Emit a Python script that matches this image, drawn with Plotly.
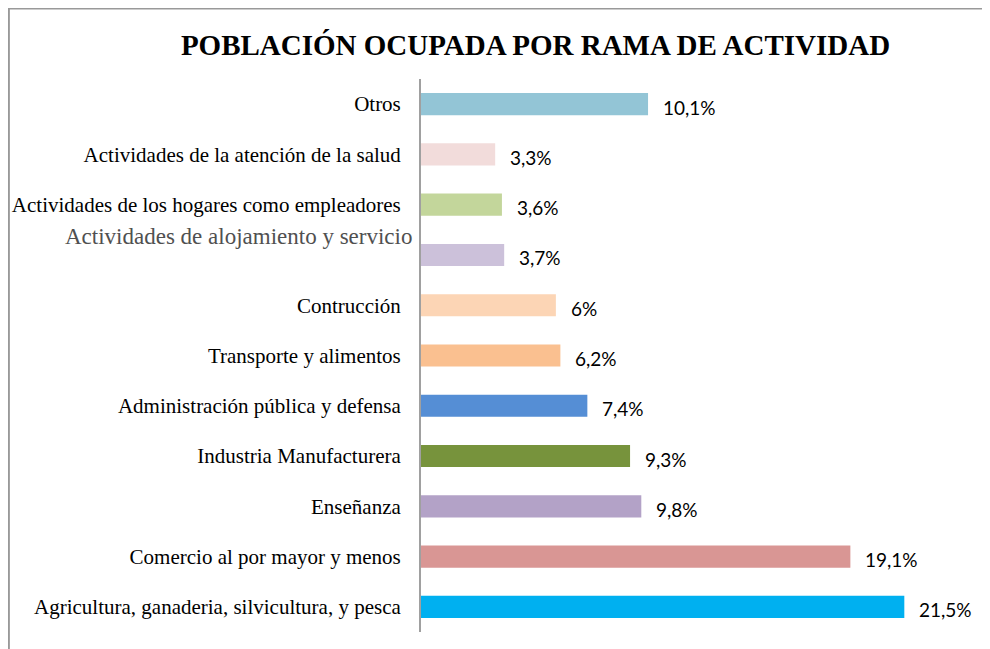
import plotly.graph_objects as go

# Data (bottom to top)
categories = [
    "Agricultura, ganaderia, silvicultura, y pesca",
    "Comercio al por mayor y menos",
    "Enseñanza",
    "Industria Manufacturera",
    "Administración pública y defensa",
    "Transporte y alimentos",
    "Contrucción",
    "Actividades de alojamiento y servicio",
    "Actividades de los hogares como empleadores",
    "Actividades de la atención de la salud",
    "Otros",
]
values = [21.5, 19.1, 9.8, 9.3, 7.4, 6.2, 6.0, 3.7, 3.6, 3.3, 10.1]
colors = [
    "#00B0F0", "#D99694", "#B3A2C7", "#77933C", "#558ED5", "#FAC090",
    "#FCD5B5", "#CCC1DA", "#C3D69B", "#F2DCDB", "#93C5D6",
]
title_text = "POBLACIÓN OCUPADA POR RAMA DE ACTIVIDAD"
special_label = "Actividades de alojamiento y servicio"

value_labels = [f"{v:g}".replace(".", ",") + "%" for v in values]
tick_text = ["" if c == special_label else c for c in categories]

SERIF = "Liberation Serif, Times New Roman, DejaVu Serif, serif"

fig = go.Figure()
fig.add_trace(go.Bar(
    x=values, y=categories, orientation="h",
    marker=dict(color=colors, line=dict(width=0)),
    hoverinfo="skip",
))

annotations = []
for c, v, t in zip(categories, values, value_labels):
    annotations.append(dict(
        x=v, y=c, xref="x", yref="y", text=t, showarrow=False,
        xanchor="left", yanchor="middle", xshift=13, yshift=-3,
        font=dict(family="Lato, sans-serif", size=19, color="#000000"),
    ))

annotations.append(dict(
    x=0, y=special_label, xref="x", yref="y", text=special_label,
    showarrow=False, xanchor="right", yanchor="middle", xshift=-7, yshift=18,
    font=dict(family=SERIF, size=23, color="#505050"),
))

W, H = 982, 641
L, R, T, B = 413, 6.5, 71, 17
pw = W - L - R
ph = H - T - B

fig.update_layout(
    width=W, height=H,
    margin=dict(l=L, r=R, t=T, b=B, autoexpand=False),
    paper_bgcolor="white", plot_bgcolor="white",
    bargap=0.56,
    showlegend=False,
    title=dict(
        text=title_text,
        x=527.5 / W, xanchor="center", xref="container",
        y=1 - 37 / H, yanchor="middle", yref="container",
        font=dict(family=SERIF, size=29, color="#000000", weight="bold"),
    ),
    annotations=annotations,
    shapes=[dict(
        type="rect", xref="paper", yref="paper",
        x0=(0.5 - L) / pw, x1=1.2, y0=-0.2, y1=(T + ph - 0.5) / ph,
        line=dict(color="#999999", width=2), fillcolor="rgba(0,0,0,0)",
        layer="below",
    )],
)

fig.update_xaxes(
    range=[0, pw / 22.5], showgrid=False, zeroline=False,
    showticklabels=False, ticks="", showline=False,
)
fig.update_yaxes(
    categoryorder="array", categoryarray=categories,
    tickmode="array", tickvals=categories, ticktext=tick_text,
    range=[-0.5, len(categories) - 0.5],
    showgrid=False, zeroline=False, ticks="",
    showline=True, linecolor="#A0A0A0", linewidth=2,
    ticklabelstandoff=14,
    tickfont=dict(family=SERIF, size=21, color="#000000"),
)

fig.write_html("out.html")
